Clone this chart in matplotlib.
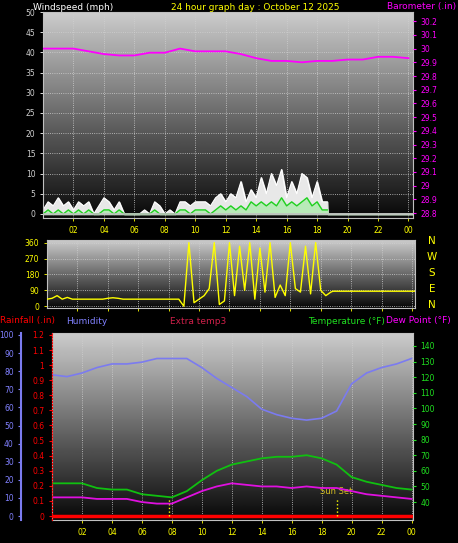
import numpy as np
import matplotlib.pyplot as plt

# ---- data ----
hours = list(range(25))
pressure = [30.0, 30.0, 30.0, 29.98, 29.96, 29.95, 29.95, 29.97, 29.97, 30.0, 29.98, 29.98, 29.98,
            29.96, 29.93, 29.91, 29.91, 29.90, 29.91, 29.91, 29.92, 29.92, 29.94, 29.94, 29.93]
humidity = [78, 77, 79, 82, 84, 84, 85, 87, 87, 87, 82, 76, 71, 66, 59, 56, 54, 53, 54, 58, 73, 79, 82, 84, 87]
temperature = [52, 52, 52, 49, 48, 48, 45, 44, 43, 47, 54, 60, 64, 66, 68, 69, 69, 70, 68, 64, 56, 53, 51, 49, 48]
dewpoint = [43, 43, 43, 42, 42, 42, 40, 39, 39, 43, 47, 50, 52, 51, 50, 50, 49, 50, 49, 49, 47, 45, 44, 43, 42]
rainfall = [0] * 25

# wind, every 20 minutes from 00:00 to 18:40
gust = [1, 3, 2, 4, 2, 3, 1, 3, 2, 3, 0, 2, 4, 3, 1, 3,
        0, 0, 0, 0, 1, 0,
        3, 2, 0, 1, 0,
        3, 3, 2, 3, 3, 3, 2,
        4, 5, 3, 5, 4,
        8, 3, 6, 4,
        9, 5, 10, 7, 11, 4,
        8, 5, 10, 9, 4, 8, 3, 3]
average = [0, 1, 0, 1, 0, 1, 0, 1, 0, 1, 0, 0, 1, 1, 0, 1,
           0, 0, 0, 0, 0, 0,
           1, 0, 0, 0, 0,
           1, 1, 0, 1, 1, 1, 0,
           1, 2, 1, 2, 1,
           2, 1, 3, 2,
           3, 2, 3, 2, 4, 2,
           3, 2, 3, 4, 2, 3, 1, 1]
direction = [40, 45, 60, 40, 50, 40, 40, 40, 40, 40, 40, 40, 45, 48, 45, 40,
             40, 40, 40, 40, 40, 40,
             40, 40, 40, 40, 40,
             0, 360, 20, 40, 60, 100, 360,
             10, 30, 360, 60, 340,
             90, 360, 40, 330,
             80, 360, 50, 120, 60, 360,
             100, 80, 340, 70, 360, 90, 60, 80]
wind_t = [i / 3 for i in range(len(gust))]
hour_labels = ["02", "04", "06", "08", "10", "12", "14", "16", "18", "20", "22", "00"]

W, H = 458, 543
fig = plt.figure(figsize=(W / 100, H / 100), dpi=100, facecolor="black")


def add_ax(l, t, r, b):
    return fig.add_axes([l / W, 1 - b / H, (r - l) / W, (b - t) / H])


def style(ax, xlim, ylim):
    ax.set_facecolor("black")
    grad = np.linspace(0.8, 0.03, 200).reshape(-1, 1)
    ax.imshow(grad, extent=[xlim[0], xlim[1], ylim[0], ylim[1]], aspect="auto",
              cmap="gray", vmin=0, vmax=1, zorder=0)
    ax.set_xlim(*xlim)
    ax.set_ylim(*ylim)
    ax.grid(True, color="#d0d0d0", linestyle=":", linewidth=0.6, zorder=1)
    for s in ax.spines.values():
        s.set_color("#c0c0c0")
    ax.tick_params(colors="yellow", labelsize=5.5, length=2, width=0.6)


# ---- top: windspeed / barometer ----
ax1 = add_ax(43, 12, 413, 218)
style(ax1, (0, 24.3), (-1, 50))
ax1.set_xticks(range(2, 25, 2))
ax1.set_xticklabels(hour_labels)
ax1.set_yticks(range(0, 51, 5))
ax1.tick_params(axis="y", colors="white")
for lab in ax1.get_yticklabels():
    lab.set_color("#d0d0d0")
ax1.fill_between(wind_t + [18.7, 24.3], gust + [0, 0], color="#e8e8e8", zorder=2)
ax1.plot(wind_t, gust, color="white", lw=0.8, zorder=2)
ax1.fill_between(wind_t + [18.7, 24.3], average + [0, 0], color="#b8eab8", zorder=3)
ax1.plot(wind_t, average, color="#20d020", lw=1, zorder=4)
ax1.axhline(0, color="#c0c0c0", lw=1.2, zorder=4)
axb = ax1.twinx()
axb.set_ylim(28.764, 30.267)
axb.set_yticks(np.round(np.arange(28.8, 30.25, 0.1), 1))
axb.set_yticklabels([f"{v:g}" for v in np.round(np.arange(28.8, 30.25, 0.1), 1)])
axb.tick_params(colors="magenta", labelsize=5.5, length=2)
axb.plot(hours, pressure, color="magenta", lw=1.3)
for s in axb.spines.values():
    s.set_visible(False)

fig.text(33 / W, 1 - 7 / H, "Windspeed (mph)", color="white", fontsize=6.5, va="center")
fig.text(255 / W, 1 - 7 / H, "24 hour graph day : October 12 2025", color="yellow",
         fontsize=6.5, va="center", ha="center")
fig.text(456 / W, 1 - 7 / H, "Barometer (.in)", color="magenta", fontsize=6.5, va="center", ha="right")

# ---- middle: wind direction ----
ax2 = add_ax(47, 240, 415, 308)
style(ax2, (0, 24.2), (-10, 375))
ax2.set_xticks(range(2, 25, 2))
ax2.set_xticklabels([])
ax2.set_yticks([0, 90, 180, 270, 360])
ax2.plot(wind_t + [18.8, 24.2], direction + [85, 85], color="yellow", lw=1, zorder=3)
for i, c in enumerate("NWSEN"):
    fig.text(432 / W, 1 - (241 + i * 16) / H, c, color="yellow", fontsize=7.5, ha="center", va="center")

# ---- header of bottom panel ----
for x, txt, col in [(0, "Rainfall (.in)", "red"), (66, "Humidity", "#8080ff"),
                    (170, "Extra temp3", "#d0204a"), (308, "Temperature (°F)", "#20e020"),
                    (386, "Dew Point (°F)", "magenta")]:
    fig.text(x / W, 1 - 321 / H, txt, color=col, fontsize=6.5, va="center")

# ---- bottom: temperature / humidity / rain ----
ax3 = add_ax(52, 333, 413, 520)
style(ax3, (0, 24.1), (-2.2, 101.1))
ax3.set_xticks(range(2, 25, 2))
ax3.set_xticklabels(hour_labels)
ax3.set_yticks([])
ax3.plot(hours, humidity, color="#7b7bf0", lw=1.2, zorder=3)
axt = ax3.twinx()
axt.set_ylim(28.5, 148.3)
axt.set_yticks(range(40, 141, 10))
axt.tick_params(colors="#20e020", labelsize=5.5, length=2)
axt.plot(hours, temperature, color="#10c010", lw=1.3)
axt.plot(hours, dewpoint, color="#e010e0", lw=1.3)
for s in axt.spines.values():
    s.set_visible(False)
ax3.plot(hours, rainfall, color="red", lw=2.5, zorder=4)
for x, lab in [(7.8, ""), (19.0, "Sun Set")]:
    ax3.plot([x, x], [0, 10], color="yellow", ls=":", lw=1, zorder=4)
    if lab:
        ax3.text(x, 11, lab, color="#d8c020", fontsize=6, ha="center", va="bottom", zorder=5)

# humidity axis on far left
axh = fig.add_axes(ax3.get_position())
axh.patch.set_visible(False)
axh.set_ylim(-2.2, 101.1)
axh.set_xticks([])
axh.spines["left"].set_position(("outward", 22))
axh.spines["left"].set_color("#7b7bf0")
axh.spines["left"].set_linewidth(1.5)
for k in ["right", "top", "bottom"]:
    axh.spines[k].set_visible(False)
axh.set_yticks(range(0, 101, 10))
axh.tick_params(colors="#8080ff", labelsize=5.5, length=2)

# rainfall axis
axr = fig.add_axes(ax3.get_position())
axr.patch.set_visible(False)
axr.set_ylim(-0.0264, 1.213)
axr.set_xticks([])
axr.spines["left"].set_color("red")
axr.spines["left"].set_linestyle(":")
for k in ["right", "top", "bottom"]:
    axr.spines[k].set_visible(False)
axr.set_yticks(np.round(np.arange(0, 1.25, 0.1), 1))
axr.set_yticklabels([f"{v:g}" for v in np.round(np.arange(0, 1.25, 0.1), 1)])
axr.tick_params(colors="red", labelsize=5.5, length=2)

fig.savefig("out.png", dpi=100, facecolor="black")
